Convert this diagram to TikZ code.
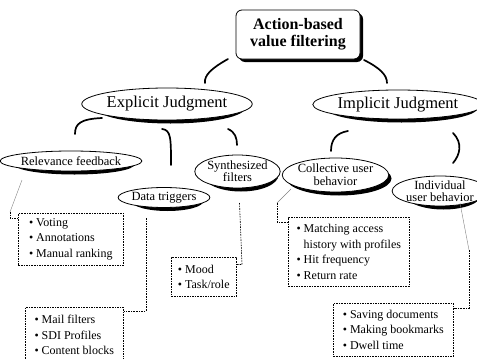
\documentclass[tikz,border=0pt]{standalone}
\usepackage{fontspec}
\setmainfont{Liberation Serif}
\usetikzlibrary{shapes.geometric}
\tikzset{
  oval/.style={ellipse, draw=black, line width=0.8pt, fill=white, inner sep=0pt, align=center},
  bigtxt/.style={font=\fontsize{16.5}{18}\selectfont},
  smtxt/.style={font=\fontsize{12.5}{12.5}\selectfont},
  listbox/.style={draw=black, line width=0.6pt, dash pattern=on 1.6pt off 1pt, inner xsep=5pt, inner ysep=0pt,
    align=left, anchor=north west, font=\fontsize{12}{15.5}\selectfont},
  curve/.style={line width=1.7pt, line cap=round},
  thin/.style={draw=gray, line width=0.4pt},
  dots/.style={line width=0.6pt, dash pattern=on 1.6pt off 1pt},
  shade/.style={fill=black},
}
\newcommand{\bl}{\textbullet\ }
\newcommand{\ovshadow}[4]{\fill[shade] ({#1+3.5},{#2+3.5}) ellipse [x radius={#3/2}, y radius={#4/2}];}
\begin{document}
\begin{tikzpicture}[x=1pt,y=-1pt]
\useasboundingbox (0,0) rectangle (477,359);
% shadows
\fill[shade, rounded corners=6pt] (239,13) rectangle (363,62);
\ovshadow{167}{104}{150}{32}
\ovshadow{398}{104.5}{152}{29}
\ovshadow{71}{161}{120}{20}
\ovshadow{164}{197.5}{72}{20}
\ovshadow{237.5}{171.5}{75}{33}
\ovshadow{335.5}{175}{105}{34}
\ovshadow{440}{191}{76}{30}
% root
\node[draw=black, line width=0.8pt, rounded corners=6pt, fill=white, minimum width=124pt, minimum height=49pt,
  align=center, font=\bfseries\fontsize{16}{17}\selectfont]
  (root) at (298,34.5) {Action-based\\value filtering};
% main ellipses
\node[oval, bigtxt, minimum width=150pt, minimum height=32pt] (exp) at (167,104) {Explicit Judgment};
\node[oval, bigtxt, minimum width=152pt, minimum height=29pt] (imp) at (398,104.5) {Implicit Judgment};
% sub ellipses
\node[oval, smtxt, minimum width=120pt, minimum height=20pt] (rf) at (71,161) {Relevance feedback};
\node[oval, smtxt, minimum width=72pt, minimum height=20pt] (dt) at (164,197.5) {Data triggers};
\node[oval, smtxt, minimum width=75pt, minimum height=33pt, font=\fontsize{12.5}{12}\selectfont] (sf) at (237.5,171.5) {Synthesized\\filters};
\node[oval, smtxt, minimum width=105pt, minimum height=34pt, font=\fontsize{12.5}{13}\selectfont] (cu) at (335.5,175) {Collective user\\behavior};
\node[oval, smtxt, minimum width=76pt, minimum height=30pt, font=\fontsize{12.5}{12}\selectfont] (iu) at (440,191) {Individual\\user behavior};
% curved connectors
\coordinate (a1) at (228,59); \coordinate (a2) at (205,83);
\coordinate (b1) at (364,60); \coordinate (b2) at (387,83);
\draw[curve] (a1) .. controls (212,68) and (204,75) .. (a2);
\draw[curve] (b1) .. controls (380,68) and (387,75) .. (b2);
\coordinate (e1) at (102,118); \coordinate (e2) at (75,134);
\draw[curve] (e1) .. controls (80,119) and (75,124) .. (e2);
\coordinate (f1) at (162,129); \coordinate (f2) at (171,165);
\draw[curve] (f1) .. controls (171,130) and (171,138) .. (f2);
\coordinate (g1) at (228,129); \coordinate (g2) at (237,145);
\draw[curve] (g1) .. controls (235,132) and (237,138) .. (g2);
\coordinate (h1) at (348,131); \coordinate (h2) at (331,151);
\draw[curve] (h1) .. controls (336,133) and (331,140) .. (h2);
\coordinate (k1) at (453,133); \coordinate (k2) at (453,163);
\draw[curve] (k1) .. controls (463,143) and (460,155) .. (k2);
% list boxes
\node[listbox, minimum width=105pt, minimum height=52pt] (l1) at (18,213)
  {\bl Voting\\\bl Annotations\\\bl Manual ranking};
\node[listbox, minimum width=98pt, minimum height=56pt] (l2) at (25,307)
  {\bl Mail filters\\\bl SDI Profiles\\\bl Content blocks};
\node[listbox, minimum width=65pt, minimum height=39pt] (l3) at (171,257)
  {\bl Mood\\\bl Task/role};
\node[listbox, minimum width=121pt, minimum height=69pt] (l4) at (288,217)
  {\bl Matching access\\\phantom{\bl}history with profiles\\\bl Hit frequency\\\bl Return rate};
\node[listbox, minimum width=120pt, minimum height=53pt] (l5) at (333,303)
  {\bl Saving documents\\\bl Making bookmarks\\\bl Dwell time};
% box connectors
\coordinate (p1) at (22,180); \coordinate (p2) at (10,212); \coordinate (p3) at (10,218);
\draw[thin] (p1) -- (p2);
\draw[dots] (p2) -- (p3) -- (p3 -| l1.west);
\coordinate (q1) at (146,218); \coordinate (q2) at (146,311);
\draw[dots] (q1) -- (q2) -- (q2 -| l2.east);
\coordinate (r1) at (239.5,203); \coordinate (r2) at (242,264.5);
\draw[dots] (r1) -- (r2) -- (r2 -| l3.east);
\coordinate (s1) at (291,189); \coordinate (s2) at (277,203); \coordinate (s3) at (277,222);
\draw[thin] (s1) -- (s2);
\draw[dots] (s2) -- (s3) -- (s3 -| l4.west);
\coordinate (t1) at (460,203); \coordinate (t2) at (469,250); \coordinate (t3) at (469,308);
\draw[thin] (t1) -- (t2);
\draw[dots] (t2) -- (t3) -- (t3 -| l5.east);
\end{tikzpicture}
\end{document}
